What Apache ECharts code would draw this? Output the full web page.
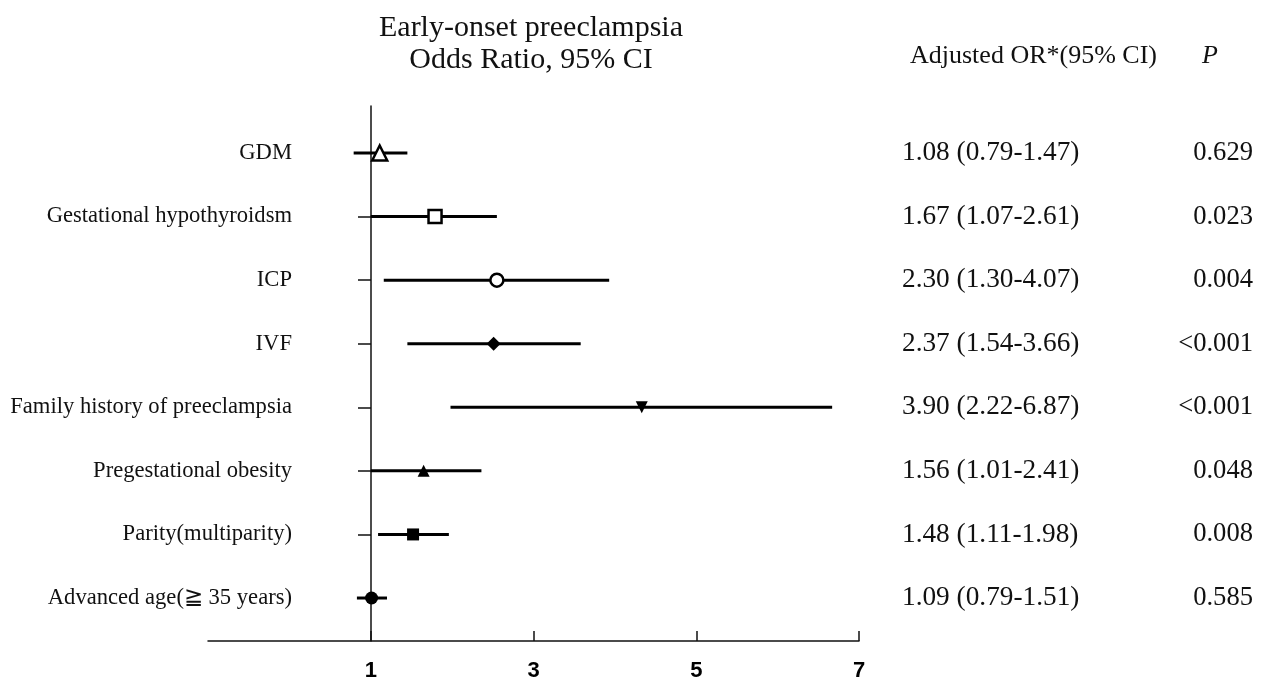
<!DOCTYPE html>
<html>
<head>
    <meta charset="utf-8">
    <title>Early-onset preeclampsia forest plot</title>
    <script src="https://cdn.jsdelivr.net/npm/echarts@6/dist/echarts.min.js"></script>
    <style>
        html, body { margin: 0; padding: 0; background: #fff; }
        #main { width: 1266px; height: 683px; }
    </style>
</head>
<body>
    <div id="main"></div>
    <script type="text/javascript">
        // rows, top to bottom
        var factors = ['GDM', 'Gestational hypothyroidsm', 'ICP', 'IVF',
            'Family history of preeclampsia', 'Pregestational obesity',
            'Parity(multiparity)', 'Advanced age(\u2267 35 years)'];
        // plotted estimate and whiskers
        var pointOR = [1.11, 1.79, 2.55, 2.51, 4.33, 1.65, 1.52, 1.01];
        var ciLow = [0.79, 1.0, 1.16, 1.45, 1.98, 1.0, 1.09, 0.83];
        var ciHigh = [1.45, 2.55, 3.93, 3.58, 6.67, 2.36, 1.96, 1.20];
        // right-hand table
        var orText = ['1.08 (0.79-1.47)', '1.67 (1.07-2.61)', '2.30 (1.30-4.07)', '2.37 (1.54-3.66)',
            '3.90 (2.22-6.87)', '1.56 (1.01-2.41)', '1.48 (1.11-1.98)', '1.09 (0.79-1.51)'];
        var pText = ['0.629', '0.023', '0.004', '<0.001', '<0.001', '0.048', '0.008', '0.585'];
        var xTicks = [1, 3, 5, 7];

        // marker look per row
        var marks = [
            { symbol: 'triangle', size: 15, open: true },
            { symbol: 'rect', size: 13, open: true },
            { symbol: 'circle', size: 13, open: true },
            { symbol: 'diamond', size: 14, open: false },
            { symbol: 'triangle', size: 12, open: false, rotate: 180 },
            { symbol: 'triangle', size: 12, open: false },
            { symbol: 'rect', size: 12, open: false },
            { symbol: 'circle', size: 13, open: false }
        ];

        var n = factors.length;
        var rowY = factors.map(function (f, i) { return n - i; });
        var rowValues = rowY.slice().reverse();

        function rowIndex(v) { return n - Math.round(v); }

        var serif = '"Liberation Serif", "Times New Roman", serif';

        var ciData = factors.map(function (f, i) { return [ciLow[i], ciHigh[i], rowY[i]]; });
        var pointData = factors.map(function (f, i) {
            var m = marks[i];
            return {
                value: [pointOR[i], rowY[i]],
                symbol: m.symbol,
                symbolSize: m.size,
                symbolRotate: m.rotate || 0,
                itemStyle: {
                    color: m.open ? '#fff' : '#000',
                    borderColor: '#000',
                    borderWidth: m.open ? 2.5 : 0,
                    opacity: 1
                }
            };
        });

        var myChart = echarts.init(document.getElementById('main'));
        myChart.setOption({
            animation: false,
            backgroundColor: '#fff',
            title: [{
                text: 'Early-onset preeclampsia\nOdds Ratio, 95% CI',
                left: 526, top: 7, textAlign: 'center',
                textStyle: { fontFamily: serif, fontSize: 30, fontWeight: 'normal', color: '#111', lineHeight: 32 }
            }, {
                text: 'Adjusted OR*(95% CI)',
                left: 905, top: 38,
                textStyle: { fontFamily: serif, fontSize: 26, fontWeight: 'normal', color: '#111' }
            }, {
                text: 'P',
                left: 1197, top: 38,
                textStyle: { fontFamily: serif, fontSize: 26, fontWeight: 'normal', fontStyle: 'italic', color: '#111' }
            }],
            grid: { left: 208, right: 407, top: 106, bottom: 42 },
            xAxis: {
                type: 'value', min: -1, max: 7, interval: 2,
                axisLine: { onZero: false, lineStyle: { color: '#111', width: 1.5 } },
                axisTick: { inside: true, length: 10, customValues: xTicks, lineStyle: { color: '#111', width: 1.5 } },
                axisLabel: {
                    customValues: xTicks, margin: 19,
                    fontFamily: '"Liberation Sans", Arial, sans-serif', fontWeight: 'bold', fontSize: 22, color: '#000'
                },
                splitLine: { show: false }
            },
            yAxis: [{
                type: 'value', min: 0.324, max: 8.739, position: 'left', offset: -163,
                axisLine: { show: true, onZero: false, lineStyle: { color: '#111', width: 1.5 } },
                axisTick: { show: true, length: 13, customValues: rowValues, lineStyle: { color: '#111', width: 1.5 } },
                axisLabel: {
                    customValues: rowValues, margin: 79,
                    fontFamily: serif, fontSize: 22.6, color: '#111',
                    formatter: function (v) { return factors[rowIndex(v)]; }
                },
                splitLine: { show: false }
            }, {
                type: 'value', min: 0.324, max: 8.739, position: 'right',
                axisLine: { show: false }, axisTick: { show: false }, splitLine: { show: false },
                axisLabel: {
                    customValues: rowValues, margin: 43,
                    fontFamily: serif, fontSize: 27.3, color: '#111',
                    formatter: function (v) { return orText[rowIndex(v)]; }
                }
            }, {
                type: 'value', min: 0.324, max: 8.739, position: 'right',
                axisLine: { show: false }, axisTick: { show: false }, splitLine: { show: false },
                axisLabel: {
                    customValues: rowValues, margin: 394, align: 'right',
                    fontFamily: serif, fontSize: 26.6, color: '#111',
                    formatter: function (v) { return pText[rowIndex(v)]; }
                }
            }],
            series: [{
                type: 'custom',
                data: ciData,
                encode: { x: [0, 1], y: 2 },
                renderItem: function (params, api) {
                    var a = api.coord([api.value(0), api.value(2)]);
                    var b = api.coord([api.value(1), api.value(2)]);
                    return {
                        type: 'line',
                        shape: { x1: a[0], y1: a[1], x2: b[0], y2: b[1] },
                        style: { stroke: '#000', lineWidth: 3 }
                    };
                },
                z: 2
            }, {
                type: 'scatter',
                data: pointData,
                z: 3
            }]
        });
    </script>
</body>
</html>
